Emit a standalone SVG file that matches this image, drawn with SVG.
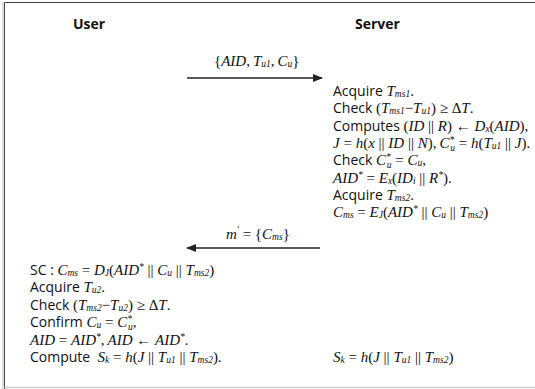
<svg xmlns="http://www.w3.org/2000/svg" width="535" height="389" viewBox="0 0 535 389">
  <style>
    .hd { font-family: "Open Sans", "Noto Sans", sans-serif; font-weight: bold; font-size: 14px; fill: #111; }
    .t  { font-family: "Open Sans", "Noto Sans", sans-serif; font-size: 14px; fill: #111; }
    .m  { font-family: "Liberation Serif", serif; font-style: italic; font-size: 15px; }
    .r  { font-family: "Liberation Serif", serif; font-style: normal; font-size: 15px; }
    .s  { font-family: "Liberation Serif", serif; font-style: italic; font-size: 9.5px; }
    .conn { stroke: #222; stroke-width: 1.5; fill: none; }
  </style>
  <defs>
    <marker id="head" markerWidth="10" markerHeight="8" refX="9" refY="4" orient="auto" markerUnits="userSpaceOnUse">
      <path d="M0,0 L10,4 L0,8 Z" fill="#222"/>
    </marker>
  </defs>

  <rect x="0" y="0" width="535" height="389" fill="#fff"/>
  <!-- frame -->
  <line x1="3" y1="2" x2="3" y2="389" stroke="#bbb" stroke-width="1"/>
  <line x1="4.5" y1="2.5" x2="4.5" y2="389" stroke="#444" stroke-width="1"/>
  <line x1="4.5" y1="2.5" x2="535" y2="2.5" stroke="#444" stroke-width="1"/>
  <line x1="4.5" y1="387.5" x2="535" y2="387.5" stroke="#ccc" stroke-width="1.5"/>

  <g id="user">
    <text class="hd" x="73" y="29">User</text>
  </g>
  <g id="server">
    <text class="hd" x="355" y="29">Server</text>
  </g>

  <g id="connectors">
    <line class="conn" x1="187" y1="78" x2="322" y2="78" marker-end="url(#head)"/>
    <text class="t" x="214" y="66"><tspan class="r">{</tspan><tspan class="m">AID</tspan><tspan class="r">,&#8201;</tspan><tspan class="m">T</tspan><tspan class="s" dy="1">u</tspan><tspan class="s" font-style="normal">1</tspan><tspan class="r" dy="-1">,&#8201;</tspan><tspan class="m">C</tspan><tspan class="s" dy="1">u</tspan><tspan class="r" dy="-1">}</tspan></text>

    <line class="conn" x1="320" y1="248" x2="187" y2="248" marker-end="url(#head)"/>
    <text class="t" x="226" y="239"><tspan class="m">m</tspan><tspan class="s" font-style="normal" dy="-6">'</tspan><tspan class="r" dy="6"> = {</tspan><tspan class="m">C</tspan><tspan class="s" dy="1">ms</tspan><tspan class="r" dy="-1">}</tspan></text>
  </g>

  <g id="server-steps" class="t">
    <text x="333" y="96">Acquire <tspan class="m">T</tspan><tspan class="s" dy="1">ms</tspan><tspan class="s" font-style="normal">1</tspan><tspan class="r" dy="-1">.</tspan></text>
    <text x="333" y="113">Check <tspan class="r">(</tspan><tspan class="m">T</tspan><tspan class="s" dy="1">ms</tspan><tspan class="s" font-style="normal">1</tspan><tspan class="r" dy="-1">−</tspan><tspan class="m">T</tspan><tspan class="s" dy="1">u</tspan><tspan class="s" font-style="normal">1</tspan><tspan class="r" dy="-1">) ≥ Δ</tspan><tspan class="m">T</tspan><tspan class="r">.</tspan></text>
    <text x="333" y="131">Computes <tspan class="r">(</tspan><tspan class="m">ID</tspan><tspan class="r"> || </tspan><tspan class="m">R</tspan><tspan class="r">) ← </tspan><tspan class="m">D</tspan><tspan class="s" dy="1">x</tspan><tspan class="r" dy="-1">(</tspan><tspan class="m">AID</tspan><tspan class="r">),</tspan></text>
    <text x="333" y="148"><tspan class="m">J</tspan><tspan class="r"> = </tspan><tspan class="m">h</tspan><tspan class="r">(</tspan><tspan class="m">x</tspan><tspan class="r"> || </tspan><tspan class="m">ID</tspan><tspan class="r"> || </tspan><tspan class="m">N</tspan><tspan class="r">),&#8201;</tspan><tspan class="m">C</tspan><tspan class="s" font-style="normal" dy="-5">*</tspan><tspan class="s" dx="-4" dy="8">u</tspan><tspan class="r" dy="-3"> = </tspan><tspan class="m">h</tspan><tspan class="r">(</tspan><tspan class="m">T</tspan><tspan class="s" dy="1">u</tspan><tspan class="s" font-style="normal">1</tspan><tspan class="r" dy="-1"> || </tspan><tspan class="m">J</tspan><tspan class="r">).</tspan></text>
    <text x="333" y="165">Check <tspan class="m">C</tspan><tspan class="s" font-style="normal" dy="-5">*</tspan><tspan class="s" dx="-4" dy="8">u</tspan><tspan class="r" dy="-3"> = </tspan><tspan class="m">C</tspan><tspan class="s" dy="1">u</tspan><tspan class="r" dy="-1">,</tspan></text>
    <text x="333" y="183"><tspan class="m">AID</tspan><tspan class="s" font-style="normal" dy="-5">*</tspan><tspan class="r" dy="5"> = </tspan><tspan class="m">E</tspan><tspan class="s" dy="1">x</tspan><tspan class="r" dy="-1">(</tspan><tspan class="m">ID</tspan><tspan class="s" dy="1">i</tspan><tspan class="r" dy="-1"> || </tspan><tspan class="m">R</tspan><tspan class="s" font-style="normal" dy="-5">*</tspan><tspan class="r" dy="5">).</tspan></text>
    <text x="333" y="200">Acquire <tspan class="m">T</tspan><tspan class="s" dy="1">ms</tspan><tspan class="s" font-style="normal">2</tspan><tspan class="r" dy="-1">.</tspan></text>
    <text x="333" y="217"><tspan class="m">C</tspan><tspan class="s" dy="1">ms</tspan><tspan class="r" dy="-1"> = </tspan><tspan class="m">E</tspan><tspan class="s" dy="1">J</tspan><tspan class="r" dy="-1">(</tspan><tspan class="m">AID</tspan><tspan class="s" font-style="normal" dy="-5">*</tspan><tspan class="r" dy="5"> || </tspan><tspan class="m">C</tspan><tspan class="s" dy="1">u</tspan><tspan class="r" dy="-1"> || </tspan><tspan class="m">T</tspan><tspan class="s" dy="1">ms</tspan><tspan class="s" font-style="normal">2</tspan><tspan class="r" dy="-1">)</tspan></text>
    <text x="333" y="362"><tspan class="m">S</tspan><tspan class="s" dy="1">k</tspan><tspan class="r" dy="-1"> = </tspan><tspan class="m">h</tspan><tspan class="r">(</tspan><tspan class="m">J</tspan><tspan class="r"> || </tspan><tspan class="m">T</tspan><tspan class="s" dy="1">u</tspan><tspan class="s" font-style="normal">1</tspan><tspan class="r" dy="-1"> || </tspan><tspan class="m">T</tspan><tspan class="s" dy="1">ms</tspan><tspan class="s" font-style="normal">2</tspan><tspan class="r" dy="-1">)</tspan></text>
  </g>

  <g id="user-steps" class="t">
    <text x="30" y="275">SC : <tspan class="m">C</tspan><tspan class="s" dy="1">ms</tspan><tspan class="r" dy="-1"> = </tspan><tspan class="m">D</tspan><tspan class="s" dy="1">J</tspan><tspan class="r" dy="-1">(</tspan><tspan class="m">AID</tspan><tspan class="s" font-style="normal" dy="-5">*</tspan><tspan class="r" dy="5"> || </tspan><tspan class="m">C</tspan><tspan class="s" dy="1">u</tspan><tspan class="r" dy="-1"> || </tspan><tspan class="m">T</tspan><tspan class="s" dy="1">ms</tspan><tspan class="s" font-style="normal">2</tspan><tspan class="r" dy="-1">)</tspan></text>
    <text x="30" y="292">Acquire <tspan class="m">T</tspan><tspan class="s" dy="1">u</tspan><tspan class="s" font-style="normal">2</tspan><tspan class="r" dy="-1">.</tspan></text>
    <text x="30" y="310">Check <tspan class="r">(</tspan><tspan class="m">T</tspan><tspan class="s" dy="1">ms</tspan><tspan class="s" font-style="normal">2</tspan><tspan class="r" dy="-1">−</tspan><tspan class="m">T</tspan><tspan class="s" dy="1">u</tspan><tspan class="s" font-style="normal">2</tspan><tspan class="r" dy="-1">) ≥ Δ</tspan><tspan class="m">T</tspan><tspan class="r">.</tspan></text>
    <text x="30" y="327">Confirm <tspan class="m">C</tspan><tspan class="s" dy="1">u</tspan><tspan class="r" dy="-1"> = </tspan><tspan class="m">C</tspan><tspan class="s" font-style="normal" dy="-5">*</tspan><tspan class="s" dx="-4" dy="8">u</tspan><tspan class="r" dy="-3">,</tspan></text>
    <text x="30" y="345"><tspan class="m">AID</tspan><tspan class="r"> = </tspan><tspan class="m">AID</tspan><tspan class="s" font-style="normal" dy="-5">*</tspan><tspan class="r" dy="5">,&#8201;</tspan><tspan class="m">AID</tspan><tspan class="r"> ← </tspan><tspan class="m">AID</tspan><tspan class="s" font-style="normal" dy="-5">*</tspan><tspan class="r" dy="5">.</tspan></text>
    <text x="30" y="362">Compute&#160; <tspan class="m">S</tspan><tspan class="s" dy="1">k</tspan><tspan class="r" dy="-1"> = </tspan><tspan class="m">h</tspan><tspan class="r">(</tspan><tspan class="m">J</tspan><tspan class="r"> || </tspan><tspan class="m">T</tspan><tspan class="s" dy="1">u</tspan><tspan class="s" font-style="normal">1</tspan><tspan class="r" dy="-1"> || </tspan><tspan class="m">T</tspan><tspan class="s" dy="1">ms</tspan><tspan class="s" font-style="normal">2</tspan><tspan class="r" dy="-1">).</tspan></text>
  </g>
</svg>
